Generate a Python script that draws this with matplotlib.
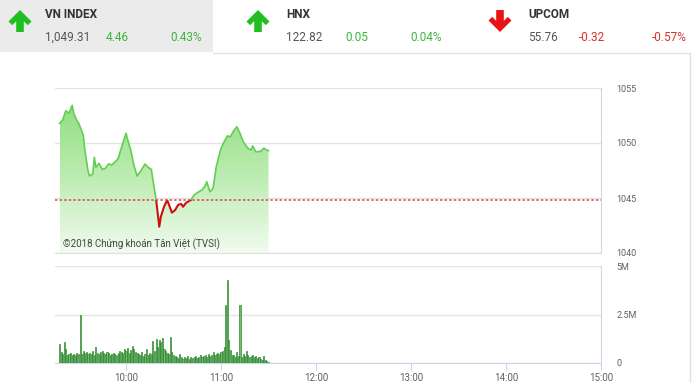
import numpy as np
import matplotlib
matplotlib.use('Agg')
import matplotlib.pyplot as plt
from matplotlib.patches import Polygon, Rectangle
from matplotlib.colors import LinearSegmentedColormap

plt.rcParams['font.family'] = ['Roboto', 'DejaVu Sans']

# ---------------- data ----------------
index_names = ["VN INDEX", "HNX", "UPCOM"]
index_values = ["1,049.31", "122.82", "55.76"]
index_changes = ["4.46", "0.05", "-0.32"]
index_pcts = ["0.43%", "0.04%", "-0.57%"]

price_times = ["09:18", "09:20", "09:22", "09:24", "09:26", "09:27", "09:29", "09:30",
               "09:33", "09:34", "09:36", "09:37", "09:39", "09:40", "09:41", "09:43",
               "09:45", "09:47", "09:49", "09:51", "09:53", "09:55", "09:57", "10:00",
               "10:01", "10:03", "10:05", "10:07", "10:09", "10:12", "10:14", "10:16",
               "10:17", "10:19", "10:21", "10:22", "10:24", "10:26", "10:29", "10:31",
               "10:33", "10:35", "10:36", "10:38", "10:41", "10:43", "10:45", "10:48",
               "10:50", "10:51", "10:53", "10:55", "10:57", "11:00", "11:02", "11:04",
               "11:06", "11:08", "11:10", "11:12", "11:14", "11:17", "11:19", "11:20",
               "11:22", "11:25", "11:27", "11:29", "11:30"]
price_values = [1051.79, 1052.09, 1052.94, 1052.70, 1053.42, 1052.70, 1052.03, 1051.85,
                1050.73, 1049.36, 1047.48, 1047.00, 1047.18, 1048.70, 1047.79, 1048.15,
                1047.60, 1047.70, 1048.10, 1048.00, 1048.27, 1048.57, 1049.52, 1050.88,
                1050.33, 1049.36, 1047.97, 1047.00, 1047.39, 1048.09, 1047.79, 1047.60,
                1046.64, 1044.88, 1042.39, 1043.30, 1044.20, 1044.82, 1043.67, 1043.90,
                1044.39, 1044.45, 1044.20, 1044.57, 1044.82, 1045.27, 1045.48, 1045.73,
                1046.10, 1046.48, 1045.57, 1045.88, 1047.85, 1049.52, 1050.12, 1050.64,
                1050.58, 1051.12, 1051.48, 1050.88, 1050.12, 1049.52, 1049.36, 1049.73,
                1049.20, 1049.24, 1049.52, 1049.36, 1049.31]
ref_price = 1044.85

volume_start = "09:18"
volume_millions = [
    1.00, 0.55, 0.45, 1.10, 0.70, 0.40, 0.45, 0.50, 0.40, 0.45,
    0.40, 0.50, 0.45, 2.46, 0.45, 0.60, 0.50, 0.55, 0.45, 0.50,
    0.45, 0.60, 0.40, 0.80, 0.50, 0.45, 0.55, 0.60, 0.50, 0.45,
    0.55, 0.50, 0.40, 0.45, 0.50, 0.45, 0.40, 0.50, 0.60, 0.55,
    0.50, 0.70, 0.60, 0.75, 0.50, 0.65, 0.90, 0.70, 0.55, 0.50,
    0.45, 0.40, 0.55, 0.35, 0.45, 0.70, 0.40, 0.50, 0.45, 1.15,
    0.60, 1.25, 0.80, 1.20, 1.10, 1.30, 0.70, 0.60, 0.50, 0.45,
    1.35, 0.55, 0.40, 0.35, 0.30, 0.25, 0.45, 0.30, 0.20, 0.30,
    0.25, 0.35, 0.20, 0.30, 0.25, 0.30, 0.35, 0.25, 0.30, 0.40,
    0.30, 0.35, 0.40, 0.30, 0.45, 0.35, 0.40, 0.55, 0.40, 0.45,
    0.50, 0.45, 0.55, 0.60, 0.80, 3.00, 4.28, 1.20, 0.65, 0.40,
    0.40, 0.30, 0.55, 0.35, 2.97, 0.30, 0.45, 0.35, 0.60, 0.40,
    0.30, 0.35, 0.40, 0.30, 0.35, 0.25, 0.30, 0.20, 0.15, 0.35,
    0.15, 0.10, 0.05]

x_tick_labels = ["10:00", "11:00", "12:00", "13:00", "14:00", "15:00"]
price_ticks = [1040, 1045, 1050, 1055]
volume_ticks = [0, 2.5, 5]
volume_tick_labels = ["0", "2.5M", "5M"]


def to_min(s):
    h, m = s.split(":")
    return (int(h) - 9) * 60 + int(m)


# ---------------- figure ----------------
W, H = 692, 383
fig = plt.figure(figsize=(W / 100, H / 100), dpi=100)
fig.patch.set_facecolor('white')

bg = fig.add_axes([0, 0, 1, 1], zorder=-5)
bg.set_xlim(0, W)
bg.set_ylim(H, 0)
bg.axis('off')
bg.add_patch(Rectangle((0, 0), 213, 52, facecolor='#ebebeb', edgecolor='none'))
bg.plot([213, 690], [52.5, 52.5], color='#e2e2e2', lw=1)
bg.plot([690, 690], [52.5, H], color='#e2e2e2', lw=1)


def arrow(cx, up, color):
    top, bot = 10, 32
    pts = [(0, 0), (11.5, 11.5), (7.8, 15.2), (3.8, 11.2), (3.8, 22), (-3.8, 22),
           (-3.8, 11.2), (-7.8, 15.2), (-11.5, 11.5)]
    if up:
        P = [(cx + x, top + y) for x, y in pts]
    else:
        P = [(cx + x, bot - y) for x, y in pts]
    bg.add_patch(Polygon(P, closed=True, facecolor=color, edgecolor='none'))


green_txt = '#3cb53c'
red_txt = '#d9312b'
header_x = [(20, 45, 106, 170), (258, 286, 345, 410), (500, 528, 579, 652)]
for i, name in enumerate(index_names):
    ax_, tx, cx_, px_ = header_x[i]
    neg = index_changes[i].startswith('-')
    arrow(ax_, not neg, '#e81313' if neg else '#1fbf1f')
    col = red_txt if neg else green_txt
    bg.text(tx, 15, name, fontsize=8.5, fontweight='bold', color='#333333', va='center')
    bg.text(tx, 37.5, index_values[i], fontsize=8.5, color='#555555', va='center')
    bg.text(cx_, 37.5, index_changes[i], fontsize=8.5, color=col, va='center')
    bg.text(px_, 37.5, index_pcts[i], fontsize=8.5, color=col, va='center')

x0_px, x1_px = 54.75, 601.0
xlim = (15, 360)

# ---------------- price panel ----------------
ax1 = fig.add_axes([x0_px / W, 1 - 253 / H, (x1_px - x0_px) / W, 165 / H])
ax1.set_facecolor('none')

pt = np.array([to_min(s) for s in price_times], dtype=float)
pv = np.array(price_values)

poly = Polygon(np.column_stack([np.r_[pt[0], pt, pt[-1]], np.r_[1040, pv, 1040]]),
               closed=True, facecolor='none', edgecolor='none', transform=ax1.transData)
ax1.add_patch(poly)
cmap = LinearSegmentedColormap.from_list('g', ['#f1fbef', '#b9ebae', '#86dc76'])
grad = np.linspace(1, 0, 256).reshape(-1, 1)
im = ax1.imshow(grad, extent=[pt[0], pt[-1], 1040, 1055], aspect='auto', cmap=cmap,
                origin='upper', zorder=1, interpolation='bilinear')
im.set_clip_path(poly)

ln_g, = ax1.plot(pt, pv, color='#62cf52', lw=1.2, zorder=3)
ln_g.set_clip_path(Rectangle((xlim[0], ref_price), 400, 30, transform=ax1.transData))
ln_r, = ax1.plot(pt, pv, color='#cc1010', lw=1.5, zorder=3)
ln_r.set_clip_path(Rectangle((xlim[0], ref_price - 30), 400, 30, transform=ax1.transData))

ax1.axhline(ref_price, color='#d94a4a', lw=1.1, ls=(0, (1.6, 1.4)), zorder=4)

ax1.set_xlim(*xlim)
ax1.set_ylim(1040, 1055)
ax1.set_xticks([])
ax1.set_yticks(price_ticks)
ax1.set_yticklabels([str(v) for v in price_ticks])
ax1.yaxis.tick_right()
ax1.tick_params(axis='y', length=0, pad=11, labelsize=6.5, labelcolor='#606060')
ax1.grid(axis='y', color='#e4e4e4', lw=1, zorder=0)
ax1.set_axisbelow(True)
for s in ['top', 'left']:
    ax1.spines[s].set_visible(False)
ax1.spines['right'].set_color('#ccd6eb')
ax1.spines['bottom'].set_color('#dedede')

fig.text(63 / W, 1 - 244 / H, "©2018 Chứng khoán Tân Việt (TVSI)", fontsize=7,
         color='#444444', va='center', ha='left')

# ---------------- volume panel ----------------
ax2 = fig.add_axes([x0_px / W, 1 - 363 / H, (x1_px - x0_px) / W, 97 / H])
vt = to_min(volume_start) + np.arange(len(volume_millions))
ax2.bar(vt, volume_millions, width=0.7, color='#6cc06c', edgecolor='#237f23',
        lw=0.45, zorder=3)
ax2.set_xlim(*xlim)
ax2.set_ylim(0, 5)
ax2.set_xticks([to_min(s) for s in x_tick_labels])
ax2.set_xticklabels(x_tick_labels)
ax2.tick_params(axis='x', length=5, color='#ccd6eb', labelsize=7, labelcolor='#606060', pad=2)
ax2.set_yticks(volume_ticks)
ax2.set_yticklabels(volume_tick_labels)
ax2.yaxis.tick_right()
ax2.tick_params(axis='y', length=0, pad=11, labelsize=6.5, labelcolor='#606060')
ax2.grid(axis='y', color='#e4e4e4', lw=1, zorder=0)
ax2.set_axisbelow(True)
for s in ['top', 'left']:
    ax2.spines[s].set_visible(False)
ax2.spines['right'].set_color('#ccd6eb')
ax2.spines['bottom'].set_color('#ccd6eb')

fig.savefig('out.png', dpi=100)
